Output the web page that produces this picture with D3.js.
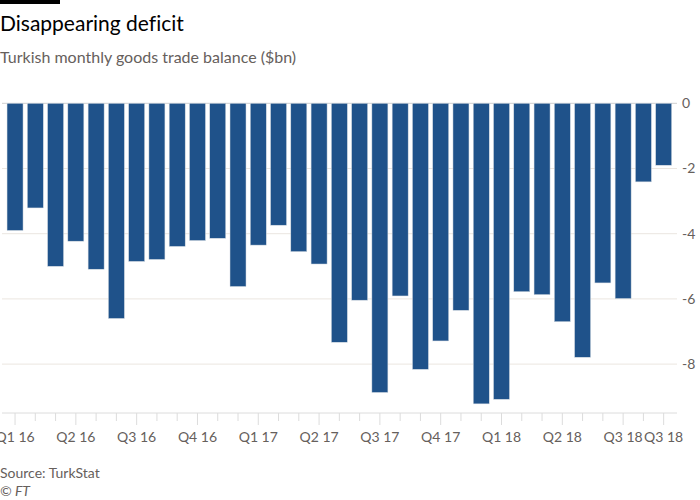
<!DOCTYPE html>
<html>
<head>
<meta charset="utf-8">
<script src="https://cdn.jsdelivr.net/npm/d3@7"></script>
<style>
  body { margin: 0; background: #fff; }
  svg { display: block; }
  text { font-family: Lato, "Noto Sans", sans-serif; font-variant-ligatures: none; }
</style>
</head>
<body>
<svg id="chart" width="700" height="500"></svg>
<script>
// Months Jan 2016 – Sep 2018
const months = [
  "2016-01","2016-02","2016-03","2016-04","2016-05","2016-06","2016-07","2016-08","2016-09","2016-10","2016-11","2016-12",
  "2017-01","2017-02","2017-03","2017-04","2017-05","2017-06","2017-07","2017-08","2017-09","2017-10","2017-11","2017-12",
  "2018-01","2018-02","2018-03","2018-04","2018-05","2018-06","2018-07","2018-08","2018-09"
];
// Trade balance, $bn
const balance = [
  -3.90, -3.21, -5.00, -4.23, -5.09, -6.60, -4.85, -4.79, -4.39, -4.21, -4.14, -5.62,
  -4.35, -3.74, -4.55, -4.93, -7.33, -6.04, -8.87, -5.91, -8.16, -7.29, -6.35, -9.22,
  -9.08, -5.78, -5.87, -6.70, -7.79, -5.51, -5.99, -2.41, -1.90
];
// Labelled ticks
const tickMonths = ["2016-01","2016-04","2016-07","2016-10","2017-01","2017-04","2017-07","2017-10","2018-01","2018-04","2018-07","2018-09"];
const tickLabels = ["Q1 16","Q2 16","Q3 16","Q4 16","Q1 17","Q2 17","Q3 17","Q4 17","Q1 18","Q2 18","Q3 18","Q3 18"];
const yTicks = [0, -2, -4, -6, -8];

const svg = d3.select("#chart");

// top black bar
svg.append("rect").attr("x", 0).attr("y", 0).attr("width", 60).attr("height", 4).attr("fill", "#000");

svg.append("text").attr("x", 0).attr("y", 31)
  .attr("font-size", 21).attr("fill", "#000").text("Disappearing deficit");
svg.append("text").attr("x", 0).attr("y", 63)
  .attr("font-size", 16).attr("fill", "#66605c").text("Turkish monthly goods trade balance ($bn)");

const x = d3.scaleBand().domain(months).range([4.9, 673.8]).paddingInner(0.21).paddingOuter(0.105);
const y = d3.scaleLinear().domain([0, -9.5]).range([103.3, 413]);

// gridlines
const grid = svg.append("g");
grid.selectAll("line").data(yTicks).join("line")
  .attr("x1", 2).attr("x2", 677)
  .attr("y1", d => y(d)).attr("y2", d => y(d))
  .attr("stroke", d => d === 0 ? "#cfcfcf" : "#ebe6e0").attr("stroke-width", 1);

// y labels
svg.append("g").selectAll("text").data(yTicks).join("text")
  .attr("x", 682).attr("y", d => y(d)).attr("dy", "0.35em")
  .attr("font-size", 14).attr("fill", "#66605c")
  .text(d => d === 0 ? "0" : "-" + Math.abs(d));

// bars
svg.append("g").selectAll("rect").data(months).join("rect")
  .attr("x", d => x(d)).attr("width", x.bandwidth())
  .attr("y", y(0))
  .attr("height", (d, i) => y(balance[i]) - y(0))
  .attr("fill", "#1f528a")
  .attr("stroke", "#d8dde3").attr("stroke-width", 0.5);

// x axis
const xAxisG = svg.append("g");
xAxisG.append("line").attr("x1", 2).attr("x2", 677).attr("y1", 413).attr("y2", 413)
  .attr("stroke", "#dcdcdc");
xAxisG.selectAll("line.tick").data(months).join("line").attr("class", "tick")
  .attr("x1", d => x(d) + x.bandwidth() / 2).attr("x2", d => x(d) + x.bandwidth() / 2)
  .attr("y1", 413).attr("y2", d => tickMonths.includes(d) ? 425 : 421)
  .attr("stroke", "#dcdcdc");
xAxisG.selectAll("text").data(tickMonths).join("text")
  .attr("x", d => x(d) + x.bandwidth() / 2).attr("y", 442)
  .attr("text-anchor", "middle").attr("font-size", 14).attr("fill", "#66605c")
  .text((d, i) => tickLabels[i]);

svg.append("text").attr("x", 0).attr("y", 478)
  .attr("font-size", 14).attr("fill", "#66605c").text("Source: TurkStat");
svg.append("text").attr("x", 0).attr("y", 496)
  .attr("font-size", 14).attr("font-style", "italic").attr("fill", "#66605c").text("© FT");
</script>
</body>
</html>
